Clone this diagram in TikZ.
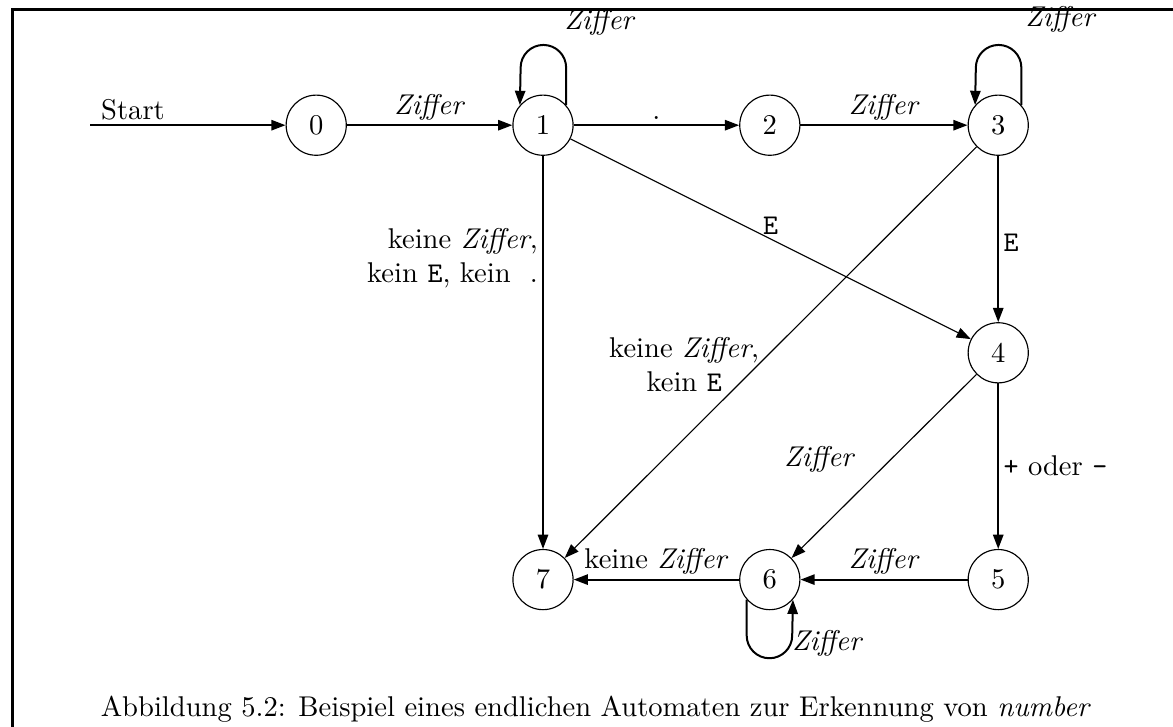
\documentclass[tikz,border=0pt]{standalone}
\usepackage{tikz}
\usetikzlibrary{arrows.meta}

\begin{document}
\begin{tikzpicture}[
		state/.style={draw, circle, thin, minimum size=0.74cm, inner sep=0pt},
		straight/.style={line width=0.7pt, -{Triangle[length=5pt,width=3.6pt]}},
		slanted/.style={thin, -{Triangle[length=5pt,width=3.6pt]}},
		lbl/.style={inner sep=1.5pt, font=\normalsize}
	]
	\useasboundingbox (0,0) rectangle (14.43,-8.94);
	\draw[line width=1pt] (0.15,-8.94) -- (0.15,-0.12) -- (14.43,-0.12);
	% states
	\foreach \n/\x/\y in {0/3.89/-1.54, 1/6.68/-1.54, 2/9.47/-1.54, 3/12.28/-1.54,
		4/12.28/-4.34, 5/12.28/-7.13, 6/9.47/-7.13, 7/6.68/-7.13} {
		\node[state] (n\n) at (\x,\y) {\n};
	}
	\coordinate (start) at (1.11,-1.54);
	\draw[straight] (start) -- (n0) node[lbl, pos=0, anchor=south west, xshift=2pt] {Start};
	\draw[straight] (n0) -- (n1) node[lbl, midway, above] {\textit{Ziffer}};
	\draw[straight] (n1) -- (n2) node[lbl, midway, above] {.};
	\draw[straight] (n2) -- (n3) node[lbl, midway, above] {\textit{Ziffer}};
	\draw[straight] (n3) -- (n4) node[lbl, pos=0.52, right] {\texttt{E}};
	\draw[straight] (n4) -- (n5) node[lbl, midway, right] {\texttt{+} oder \texttt{-}};
	\draw[straight] (n5) -- (n6) node[lbl, midway, above] {\textit{Ziffer}};
	\draw[straight] (n6) -- (n7) node[lbl, midway, above] {keine \textit{Ziffer}};
	\draw[straight] (n1) -- (n7) node[lbl, pos=0.26, left, align=right]
		{keine \textit{Ziffer},\\ kein \texttt{E}, kein \ .};
	\draw[slanted] (n1) -- (n4) node[lbl, midway, above] {\texttt{E}};
	\draw[slanted] (n3) -- (n7) node[lbl, pos=0.53, left, align=center, xshift=2pt]
		{keine \textit{Ziffer},\\ kein \texttt{E}};
	\draw[slanted] (n4) -- (n6) node[lbl, pos=0.46, left, xshift=-11pt] {\textit{Ziffer}};
	% loops
	\draw[straight] (n1.41) -- ++(0,0.46) arc[start angle=0, end angle=180, radius=0.28] -- (n1.139);
	\draw[straight] (n3.41) -- ++(0,0.46) arc[start angle=0, end angle=180, radius=0.28] -- (n3.139);
	\draw[straight] (n6.221) -- ++(0,-0.44) arc[start angle=180, end angle=360, radius=0.28] -- (n6.319);
	\node[lbl] (l1) at (7.38,-0.27) {\textit{Ziffer}};
	\node[lbl] (l3) at (13.05,-0.24) {\textit{Ziffer}};
	\node[lbl] (l6) at (10.18,-7.92) {\textit{Ziffer}};
	% caption
	\node (cap) at (7.33,-8.72) {Abbildung 5.2: Beispiel eines endlichen Automaten zur Erkennung von \textit{number}};
\end{tikzpicture}
\end{document}
